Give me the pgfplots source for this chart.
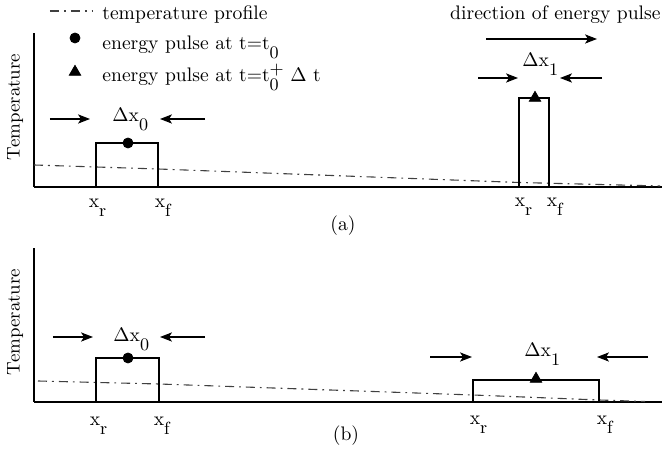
\documentclass[border=0pt]{standalone}
\usepackage{fontspec}
\usepackage{pgfplots}
\pgfplotsset{compat=1.18}
\usetikzlibrary{arrows.meta}
\newcommand{\fs}{\fontsize{9.8}{12}\selectfont}
\newcommand{\sub}[1]{\raisebox{-4.2pt}{\fontsize{8.8}{10}\selectfont #1}}
\begin{document}
\rmfamily\fs
\begin{tikzpicture}[font=\rmfamily\fs,
  txt/.style={inner sep=0pt},
  arr/.style={-{Stealth[length=6pt,width=4.6pt,inset=1.5pt]}, line width=0.55pt},
  prof/.style={black!75, line width=0.55pt, dash pattern=on 4.5pt off 2.5pt on 0.9pt off 2.5pt},
  box/.style={black, line width=0.55pt}]
\useasboundingbox (0,0) rectangle (331pt,226.5pt);
\pgfplotsset{panel/.style={scale only axis, width=314pt, height=77pt,
  xmin=34, xmax=662, ymin=0, ymax=154,
  axis x line*=bottom, axis y line*=left, xtick=\empty, ytick=\empty,
  clip=false, axis line style={line width=0.7pt},
  ylabel={Temperature},
  ylabel style={at={(axis description cs:-0.030,0.52)}, anchor=center, inner sep=0pt,
    font=\rmfamily\fontsize{9.2}{11}\selectfont}}}
% ---------------- panel (a) ----------------
\begin{axis}[panel, at={(17pt,133pt)}, anchor=south west]
  % temperature profile
  \addplot[prof] coordinates {(34,22) (158,18) (519,4.5) (660,1)};
  % pulses
  \addplot[box] coordinates {(96,0) (96,44) (158,44) (158,0)};
  \addplot[box] coordinates {(519,0) (519,89) (549,89) (549,0)};
  \addplot[only marks, mark=*, mark size=2.5pt] coordinates {(128,44)};
  \addplot[only marks, mark=triangle*, mark size=3.3pt] coordinates {(535,89)};
  % legend
  \addplot[prof] coordinates {(50,176) (93,176)};
  \node[txt, anchor=base west] at (axis cs:102,167) {temperature profile};
  \addplot[only marks, mark=*, mark size=2.5pt] coordinates {(75,149)};
  \node[txt, anchor=base west] at (axis cs:102,137) {energy pulse at t=t\sub{0}};
  \addplot[only marks, mark=triangle*, mark size=3.3pt] coordinates {(75,115)};
  \node[txt, anchor=base west] at (axis cs:102,105) {energy pulse at t=t\rlap{\sub{0}}\raisebox{3.5pt}{\fontsize{8.8}{10}\selectfont +} Δ t};
  % direction
  \node[txt, anchor=base east] at (axis cs:661,167) {direction of energy pulse};
  \draw[arr] (axis cs:486,148) -- (axis cs:597,148);
  % widths
  \draw[arr] (axis cs:50,68) -- (axis cs:90,68);
  \draw[arr] (axis cs:205,68) -- (axis cs:160,68);
  \node[txt, anchor=base west] at (axis cs:112,65) {Δx\sub{0}};
  \draw[arr] (axis cs:478,109) -- (axis cs:518,109);
  \draw[arr] (axis cs:602,109) -- (axis cs:560,109);
  \node[txt, anchor=base west] at (axis cs:522,120) {Δx\sub{1}};
  % position labels
  \node[txt, anchor=base] at (axis cs:94,-21) {x\rlap{\sub{r}}};
  \node[txt, anchor=base] at (axis cs:160,-21) {x\rlap{\sub{f}}};
  \node[txt, anchor=base] at (axis cs:520,-20) {x\rlap{\sub{r}}};
  \node[txt, anchor=base] at (axis cs:552,-20) {x\rlap{\sub{f}}};
  \node[txt, anchor=base] at (axis cs:343,-44) {(a)};
\end{axis}
% ---------------- panel (b) ----------------
\begin{axis}[panel, at={(17pt,25.5pt)}, anchor=south west]
  \addplot[prof] coordinates {(38,21) (159,18) (473,7) (599,2) (645,0.5)};
  \addplot[box] coordinates {(96,0) (96,44) (159,44) (159,0)};
  \addplot[box] coordinates {(473,0) (473,22) (599,22) (599,0)};
  \addplot[only marks, mark=*, mark size=2.5pt] coordinates {(128,44)};
  \addplot[only marks, mark=triangle*, mark size=3.3pt] coordinates {(536,23)};
  \draw[arr] (axis cs:53,65) -- (axis cs:93,65);
  \draw[arr] (axis cs:205,65) -- (axis cs:160,65);
  \node[txt, anchor=base west] at (axis cs:113,60) {Δx\sub{0}};
  \draw[arr] (axis cs:430,45) -- (axis cs:472,45);
  \draw[arr] (axis cs:648,45) -- (axis cs:597,45);
  \node[txt, anchor=base west] at (axis cs:524,45) {Δx\sub{1}};
  \node[txt, anchor=base] at (axis cs:95,-24) {x\rlap{\sub{r}}};
  \node[txt, anchor=base] at (axis cs:159,-24) {x\rlap{\sub{f}}};
  \node[txt, anchor=base] at (axis cs:475,-23) {x\rlap{\sub{r}}};
  \node[txt, anchor=base] at (axis cs:602,-23) {x\rlap{\sub{f}}};
  \node[txt, anchor=base] at (axis cs:346,-39) {(b)};
\end{axis}
\end{tikzpicture}
\end{document}
